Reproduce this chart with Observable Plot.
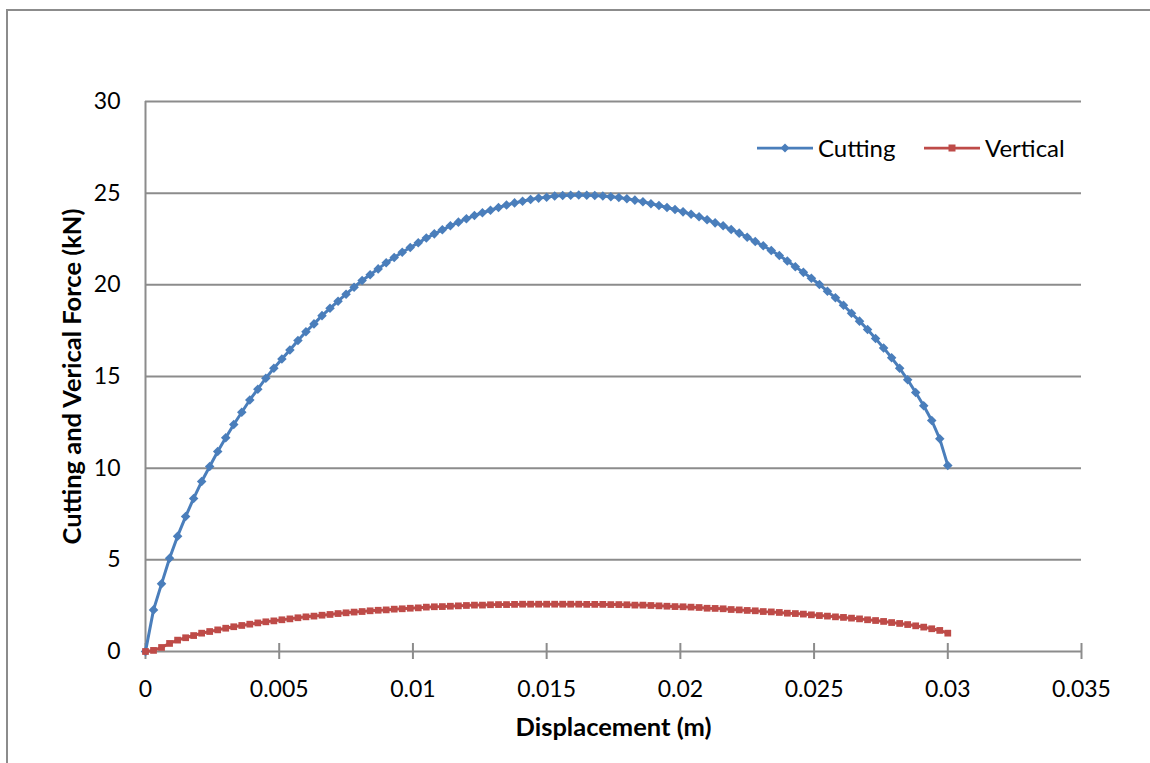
<!DOCTYPE html>
<html>
<head>
<meta charset="utf-8">
<script src="https://cdn.jsdelivr.net/npm/d3@7"></script>
<script src="https://cdn.jsdelivr.net/npm/@observablehq/plot@0.6"></script>
<style>
  html, body { margin: 0; padding: 0; background: #fff; }
  #page { position: relative; width: 1150px; height: 763px; overflow: hidden; background: #fff; font-family: Lato, "Open Sans", sans-serif; }
  #frame { position: absolute; left: 6px; top: 9px; width: 1200px; height: 800px; border-left: 2px solid #8c8c8c; border-top: 2px solid #8c8c8c; pointer-events: none; }
  #chart { position: absolute; left: 0; top: 0; }
  .legend-item { position: absolute; display: flex; align-items: center; font-size: 24px; color: #000; line-height: 1; }
  .legend-item svg { display: block; margin-right: 5px; }
</style>
</head>
<body>
<div id="page">
  <div id="frame"></div>
  <div id="chart"></div>
</div>
<script>
// Displacement (m) at each sample
const displacement = [
  0, 0.0003, 0.0006, 0.0009, 0.0012, 0.0015, 0.0018, 0.0021, 0.0024, 0.0027,
  0.003, 0.0033, 0.0036, 0.0039, 0.0042, 0.0045, 0.0048, 0.0051, 0.0054, 0.0057,
  0.006, 0.0063, 0.0066, 0.0069, 0.0072, 0.0075, 0.0078, 0.0081, 0.0084, 0.0087,
  0.009, 0.0093, 0.0096, 0.0099, 0.0102, 0.0105, 0.0108, 0.0111, 0.0114, 0.0117,
  0.012, 0.0123, 0.0126, 0.0129, 0.0132, 0.0135, 0.0138, 0.0141, 0.0144, 0.0147,
  0.015, 0.0153, 0.0156, 0.0159, 0.0162, 0.0165, 0.0168, 0.0171, 0.0174, 0.0177,
  0.018, 0.0183, 0.0186, 0.0189, 0.0192, 0.0195, 0.0198, 0.0201, 0.0204, 0.0207,
  0.021, 0.0213, 0.0216, 0.0219, 0.0222, 0.0225, 0.0228, 0.0231, 0.0234, 0.0237,
  0.024, 0.0243, 0.0246, 0.0249, 0.0252, 0.0255, 0.0258, 0.0261, 0.0264, 0.0267,
  0.027, 0.0273, 0.0276, 0.0279, 0.0282, 0.0285, 0.0288, 0.0291, 0.0294, 0.0297,
  0.03
];

// Cutting force (kN)
const cutting = [
  0, 2.27, 3.69, 5.09, 6.29, 7.36, 8.35, 9.27, 10.09, 10.91,
  11.66, 12.38, 13.05, 13.72, 14.31, 14.91, 15.45, 15.96, 16.45, 16.96,
  17.44, 17.87, 18.32, 18.72, 19.11, 19.49, 19.87, 20.24, 20.55, 20.87,
  21.20, 21.49, 21.78, 22.04, 22.29, 22.55, 22.78, 23.00, 23.22, 23.42,
  23.60, 23.78, 23.93, 24.07, 24.22, 24.35, 24.47, 24.56, 24.65, 24.73,
  24.78, 24.84, 24.87, 24.89, 24.90, 24.89, 24.87, 24.84, 24.80, 24.76,
  24.70, 24.62, 24.53, 24.42, 24.33, 24.22, 24.11, 23.98, 23.85, 23.71,
  23.55, 23.38, 23.22, 23.02, 22.82, 22.60, 22.36, 22.13, 21.87, 21.60,
  21.30, 20.99, 20.68, 20.36, 20.02, 19.65, 19.29, 18.89, 18.45, 18.02,
  17.56, 17.07, 16.56, 16.02, 15.45, 14.82, 14.13, 13.40, 12.60, 11.60,
  10.15
];

// Vertical force (kN)
const vertical = [
  0, 0.06, 0.22, 0.44, 0.62, 0.75, 0.87, 1.00, 1.09, 1.18,
  1.27, 1.35, 1.42, 1.49, 1.56, 1.62, 1.67, 1.73, 1.78, 1.84,
  1.89, 1.93, 1.98, 2.02, 2.07, 2.11, 2.15, 2.18, 2.22, 2.25,
  2.27, 2.31, 2.33, 2.36, 2.38, 2.42, 2.44, 2.45, 2.47, 2.49,
  2.51, 2.53, 2.53, 2.55, 2.56, 2.56, 2.57, 2.58, 2.58, 2.58,
  2.58, 2.58, 2.58, 2.58, 2.58, 2.57, 2.57, 2.57, 2.56, 2.56,
  2.55, 2.53, 2.53, 2.51, 2.49, 2.47, 2.45, 2.44, 2.42, 2.40,
  2.36, 2.35, 2.33, 2.29, 2.27, 2.24, 2.22, 2.18, 2.16, 2.13,
  2.09, 2.07, 2.04, 2.00, 1.96, 1.93, 1.89, 1.86, 1.82, 1.78,
  1.73, 1.69, 1.64, 1.58, 1.53, 1.47, 1.40, 1.33, 1.24, 1.15,
  1.00
];

const xTicks = [0, 0.005, 0.01, 0.015, 0.02, 0.025, 0.03, 0.035];
const xTickLabels = ["0", "0.005", "0.01", "0.015", "0.02", "0.025", "0.03", "0.035"];
const yTicks = [0, 5, 10, 15, 20, 25, 30];
const seriesNames = ["Cutting", "Vertical"];
const xTitle = "Displacement (m)";
const yTitle = "Cutting and Verical Force (kN)";

const blue = "#4a7ebb";
const red = "#be4b48";
const gridColor = "#8c8c8c";

const rows = displacement.map((x, i) => ({x, cutting: cutting[i], vertical: vertical[i]}));

const chart = Plot.plot({
  width: 1150,
  height: 763,
  marginLeft: 145,
  marginRight: 69,
  marginTop: 101,
  marginBottom: 112,
  style: {fontFamily: "Lato, 'Open Sans', sans-serif", fontSize: "23px", color: "#000", background: "transparent", overflow: "visible"},
  x: {domain: [0, 0.035]},
  y: {domain: [0, 30]},
  marks: [
    Plot.gridY(yTicks, {stroke: gridColor, strokeOpacity: 1, strokeWidth: 2}),
    Plot.ruleX([0], {stroke: gridColor, strokeWidth: 2}),
    // tick marks crossing the horizontal axis
    Plot.ruleX(xTicks, {y1: 0, y2: 0, insetTop: 8, insetBottom: 8, stroke: gridColor, strokeWidth: 2}),
    Plot.axisY(yTicks, {tickSize: 0, tickPadding: 25, label: null, fontSize: 23, fill: "#000"}),
    Plot.axisX(xTicks, {tickSize: 0, tickPadding: 29, label: null, fontSize: 23, fill: "#000",
      tickFormat: (d) => xTickLabels[xTicks.indexOf(d)]}),
    Plot.line(rows, {x: "x", y: "cutting", stroke: blue, strokeWidth: 3}),
    Plot.dot(rows, {x: "x", y: "cutting", symbol: "diamond2", r: 4.3, fill: blue}),
    Plot.line(rows, {x: "x", y: "vertical", stroke: red, strokeWidth: 3}),
    Plot.dot(rows, {x: "x", y: "vertical", symbol: "square", r: 3.8, fill: red}),
    Plot.text([xTitle], {frameAnchor: "bottom", lineAnchor: "middle", dy: 76, fontWeight: "bold", fontSize: 25.5, fill: "#000"}),
    Plot.text([yTitle], {frameAnchor: "left", textAnchor: "middle", lineAnchor: "middle", dx: -73, rotate: -90, fontWeight: "bold", fontSize: 25.5, fill: "#000"})
  ]
});
document.getElementById("chart").appendChild(chart);

// Legend: line with marker, then the series name
const page = document.getElementById("page");
const legendSpecs = [
  {name: seriesNames[0], color: blue, marker: "diamond", left: 757},
  {name: seriesNames[1], color: red, marker: "square", left: 924}
];
for (const s of legendSpecs) {
  const item = document.createElement("div");
  item.className = "legend-item";
  item.style.left = s.left + "px";
  item.style.top = "136px";
  item.style.height = "24px";
  const markerShape = s.marker === "diamond"
    ? `<path d="M28,7.5 L32.5,12 L28,16.5 L23.5,12 Z" fill="${s.color}"/>`
    : `<rect x="24.5" y="8.5" width="7" height="7" fill="${s.color}"/>`;
  item.innerHTML = `<svg width="56" height="24"><line x1="0" y1="12" x2="56" y2="12" stroke="${s.color}" stroke-width="2.75"/>${markerShape}</svg><span>${s.name}</span>`;
  page.appendChild(item);
}
</script>
</body>
</html>
